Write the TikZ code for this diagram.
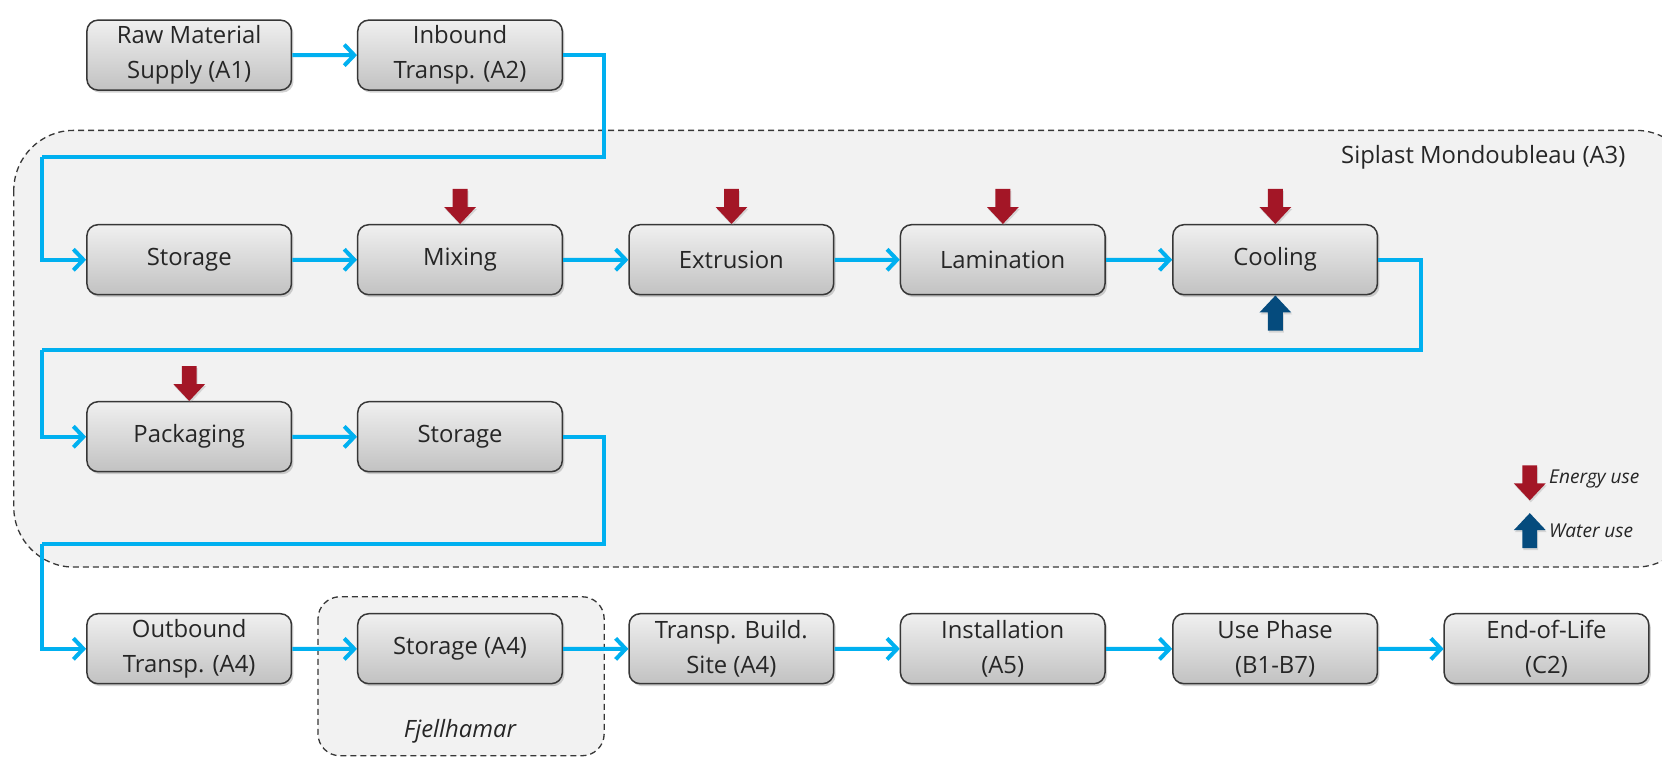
\documentclass[tikz,border=0pt]{standalone}
\usepackage{fontspec}
\setmainfont{Open Sans}
\usetikzlibrary{arrows.meta,shadows,calc}
\definecolor{flowblue}{RGB}{0,176,240}
\definecolor{ered}{RGB}{163,22,38}
\definecolor{wblue}{RGB}{5,75,125}
\definecolor{zonegray}{RGB}{242,242,242}
\definecolor{edgegray}{RGB}{55,55,55}
\tikzset{
  proc/.style={draw=edgegray, line width=1.5pt, rounded corners=11pt,
    top color=black!6, bottom color=black!24, minimum width=193pt, minimum height=66pt,
    align=center, font=\fontsize{22.5}{33}\selectfont, text=black!85,
    drop shadow={opacity=0.35, shadow xshift=2pt, shadow yshift=-2.5pt}},
  flow/.style={draw=flowblue, line width=4pt, -{Straight Barb[length=10pt,width=21pt,line width=4pt]}},
  flowline/.style={draw=flowblue, line width=4pt},
  zone/.style={draw=edgegray, fill=zonegray, dashed, dash pattern=on 6pt off 4pt, line width=1.3pt},
  pics/blockarrow/.style={code={
    \fill[#1, drop shadow={opacity=0.25, shadow xshift=1pt, shadow yshift=-2pt}]
      (-7,-33) -- (7,-33) -- (7,-16) -- (15,-16) -- (0,0) -- (-15,-16) -- (-7,-16) -- cycle;}}
}
\begin{document}
\begin{tikzpicture}[x=1pt,y=-1pt,scale=1.05995,every node/.append style={transform shape}]
\useasboundingbox (0,0) rectangle (1568,713.25);
\fill[white] (0,0) rectangle (1568,713.25);
% zones
\begin{scope}
\clip (0,0) rectangle (1568,713.25);
\path[zone, rounded corners=60pt] (13,123) rectangle (1600,535);
\path[zone, rounded corners=22pt] (300,563) rectangle (570,713);
\end{scope}
\node[font=\fontsize{22.5}{26}\selectfont, text=black!85, anchor=east] (siplast) at (1537,148) {Siplast Mondoubleau (A3)};
\node[font=\fontsize{22.5}{26}\selectfont\itshape, text=black!85] (fjell) at (434,690) {Fjellhamar};

% row 1
\node[proc] (raw) at (178.5,52) {Raw Material\\Supply (A1)};
\node[proc] (inb) at (434,52) {Inbound\\Transp. (A2)};
% row 2
\node[proc] (st1) at (178.5,245) {Storage};
\node[proc] (mix) at (434,245) {Mixing};
\node[proc] (ext) at (690,245) {Extrusion};
\node[proc] (lam) at (946,245) {Lamination};
\node[proc] (cool) at (1203,245) {Cooling};
% row 3
\node[proc] (pack) at (178.5,412) {Packaging};
\node[proc] (st2) at (434,412) {Storage};
% row 4
\node[proc] (outb) at (178.5,612) {Outbound\\Transp. (A4)};
\node[proc] (st3) at (434,612) {Storage (A4)};
\node[proc] (site) at (690,612) {Transp. Build.\\Site (A4)};
\node[proc] (inst) at (946,612) {Installation\\(A5)};
\node[proc] (use) at (1203,612) {Use Phase\\(B1-B7)};
\node[proc] (eol) at (1459,612) {End-of-Life\\(C2)};

% route coordinates
\coordinate (r1a) at (570,148);
\coordinate (r1b) at (40,148);
\coordinate (r2a) at (1340,330);
\coordinate (r2b) at (40,330);
\coordinate (r3a) at (570,513);
\coordinate (r3b) at (40,513);

% connectors
\draw[flow] (raw) -- (inb);
\draw[flowline] (inb.east) -| (r1a) -- (r1b);
\draw[flow] (r1b) |- (st1.west);
\draw[flow] (st1) -- (mix);
\draw[flow] (mix) -- (ext);
\draw[flow] (ext) -- (lam);
\draw[flow] (lam) -- (cool);
\draw[flowline] (cool.east) -| (r2a) -- (r2b);
\draw[flow] (r2b) |- (pack.west);
\draw[flow] (pack) -- (st2);
\draw[flowline] (st2.east) -| (r3a) -- (r3b);
\draw[flow] (r3b) |- (outb.west);
\draw[flow] (outb) -- (st3);
\draw[flow] (st3) -- (site);
\draw[flow] (site) -- (inst);
\draw[flow] (inst) -- (use);
\draw[flow] (use) -- (eol);

% energy / water
\pic at (mix.north) {blockarrow=ered};
\pic at (ext.north) {blockarrow=ered};
\pic at (lam.north) {blockarrow=ered};
\pic at (cool.north) {blockarrow=ered};
\pic at (pack.north) {blockarrow=ered};
\pic[rotate=180] at (cool.south) {blockarrow=wblue};

% legend
\coordinate (legE) at (1443,472);
\coordinate (legW) at (1443,484);
\pic at (legE) {blockarrow=ered};
\pic[rotate=180] at (legW) {blockarrow=wblue};
\node[font=\fontsize{18}{20}\selectfont\itshape, text=black!85, anchor=west] (ltE) at (1458,452) {Energy use};
\node[font=\fontsize{18}{20}\selectfont\itshape, text=black!85, anchor=west] (ltW) at (1458,501) {Water use};
\end{tikzpicture}
\end{document}
